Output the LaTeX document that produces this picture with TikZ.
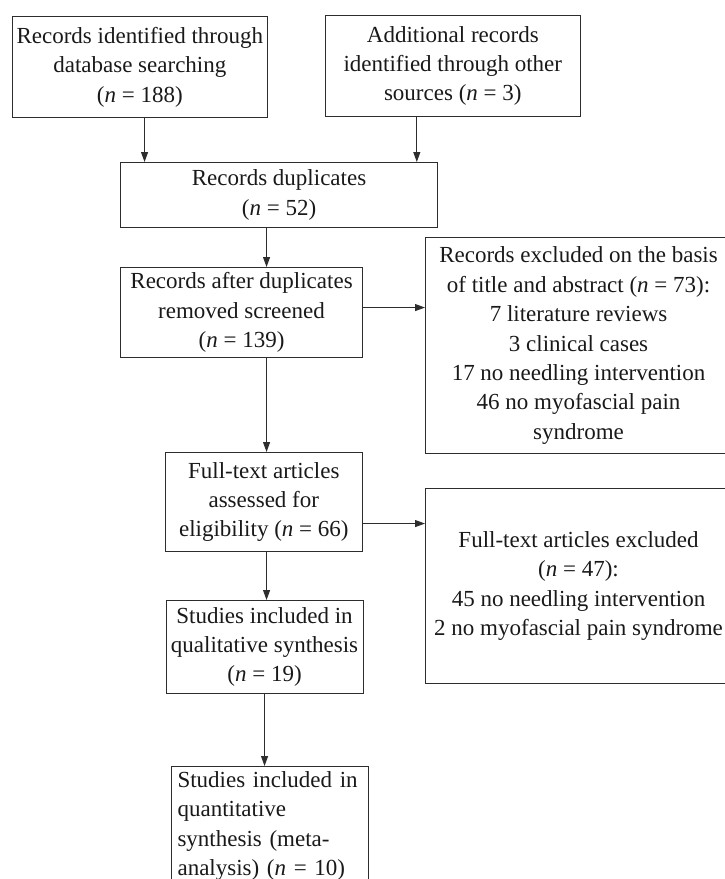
\documentclass[tikz,border=0pt]{standalone}
\usepackage{fontspec}
\setmainfont{Liberation Serif}
\usetikzlibrary{arrows.meta,positioning}
\definecolor{boxline}{RGB}{45,45,45}
\definecolor{boxtext}{RGB}{25,25,25}

\begin{document}
\begin{tikzpicture}[x=1bp, y=-1bp,
    box/.style={draw=boxline, line width=1.1bp, text=boxtext, inner sep=0pt, align=center,
      font=\fontsize{23bp}{29.4bp}\selectfont, anchor=north west},
    arr/.style={-{Triangle[length=10bp,width=7bp]}, line width=1bp, boxline}]
  \useasboundingbox (0,0) rectangle (725,879);
  % Identification
  \node[box, minimum width=255.4bp, minimum height=101bp] (recdb) at (11.6,16)
    {Records identified through\\database searching\\(\textit{n} = 188)};
  \node[box, minimum width=255.5bp, minimum height=101bp] (addl) at (324.5,15)
    {Additional records\\identified through other\\sources (\textit{n} = 3)};
  \node[box, minimum width=317bp, minimum height=65bp] (dup) at (120,162)
    {Records duplicates\\(\textit{n} = 52)};
  % Screening
  \node[box, minimum width=242bp, minimum height=90bp] (screen) at (120,267)
    {Records after duplicates\\removed screened\\(\textit{n} = 139)};
  \node[box, minimum width=306bp, minimum height=216bp] (excl) at (425,237)
    {Records excluded on the basis\\of title and abstract (\textit{n} = 73):\\7 literature reviews\\3 clinical cases\\17 no needling intervention\\46 no myofascial pain\\syndrome};
  % Eligibility
  \node[box, minimum width=196.5bp, minimum height=99bp] (full) at (165,452)
    {Full-text articles\\assessed for\\eligibility (\textit{n} = 66)};
  \node[box, minimum width=306bp, minimum height=195bp] (fullexcl) at (425,488)
    {Full-text articles excluded\\(\textit{n} = 47):\\45 no needling intervention\\2 no myofascial pain syndrome};
  % Included
  \node[box, minimum width=197bp, minimum height=93bp] (qual) at (165.5,600)
    {Studies included in\\qualitative synthesis\\(\textit{n} = 19)};
  \node[box, text width=185bp, align=left, inner xsep=6bp, inner ysep=5bp] (quant) at (171,766)
    {Studies included in\\quantitative\\synthesis (meta-\\analysis) (\textit{n} = 10)};
  % Arrows
  \draw[arr] ([xshift=4.7bp]recdb.south) -- ([xshift=4.7bp]recdb.south |- dup.north);
  \draw[arr] ([xshift=-36bp]addl.south) -- ([xshift=-36bp]addl.south |- dup.north);
  \draw[arr] ([xshift=-12.5bp]dup.south) -- ([xshift=-12.5bp]dup.south |- screen.north);
  \draw[arr] ([yshift=5bp]screen.east) -- ([yshift=5bp]screen.east -| excl.west);
  \draw[arr] ([xshift=2.75bp]full.north |- screen.south) -- ([xshift=2.75bp]full.north);
  \draw[arr] ([yshift=-21.5bp]full.east) -- ([yshift=-21.5bp]full.east -| fullexcl.west);
  \draw[arr] ([xshift=2.75bp]full.south) -- ([xshift=2.75bp]full.south |- qual.north);
  \draw[arr] (qual.south) -- (qual.south |- quant.north);
\end{tikzpicture}
\end{document}
